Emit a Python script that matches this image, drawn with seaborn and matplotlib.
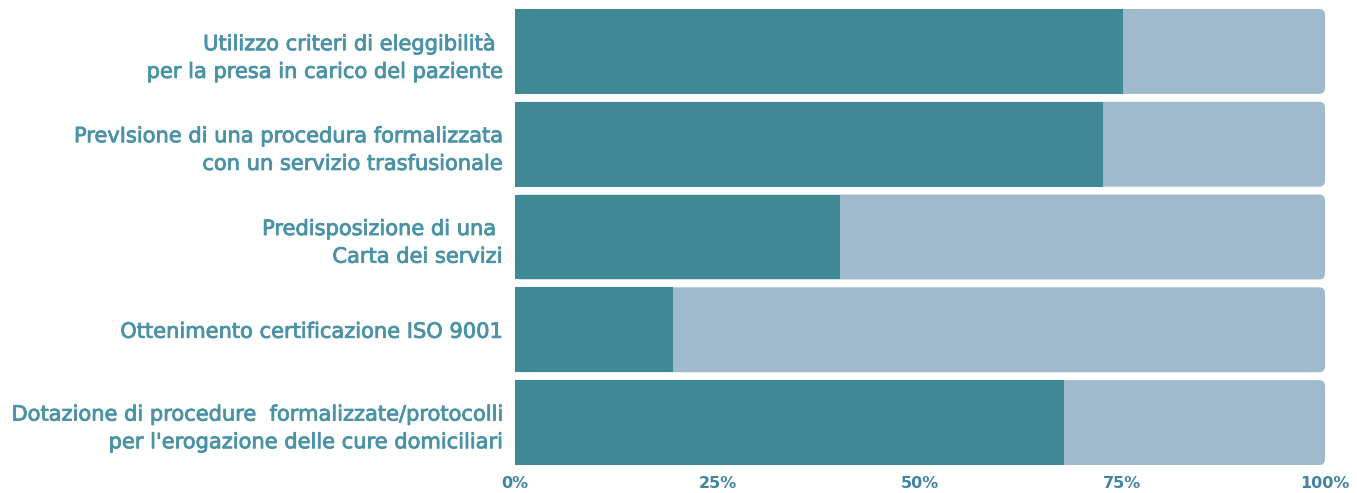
import matplotlib
matplotlib.use("Agg")
import matplotlib.pyplot as plt
import matplotlib.patheffects as pe
import seaborn as sns
import pandas as pd
from matplotlib.patches import FancyBboxPatch
from matplotlib.ticker import PercentFormatter

# ── data ──────────────────────────────────────────────────────────────────────
categories = [
    "Utilizzo criteri di eleggibilità \nper la presa in carico del paziente",
    "PrevIsione di una procedura formalizzata\ncon un servizio trasfusionale",
    "Predisposizione di una \nCarta dei servizi",
    "Ottenimento certificazione ISO 9001",
    "Dotazione di procedure  formalizzate/protocolli\nper l'erogazione delle cure domiciliari",
]
si_values = [75.1, 72.6, 40.1, 19.5, 67.8]
totals = [100, 100, 100, 100, 100]
tick_values = [0, 25, 50, 75, 100]

DARK = "#3f8994"
LIGHT = "#9fbacc"
LABEL_COL = "#4a92a6"
TICK_COL = "#3f84a0"

df = pd.DataFrame({"cat": categories, "si": si_values, "tot": totals})

sns.set_style("white")
plt.rcParams["font.family"] = ["DejaVu Sans"]

fig = plt.figure(figsize=(13.57, 4.93), dpi=100)
ax = fig.add_axes([515 / 1357, 1 - 465 / 493, 810 / 1357, 456 / 493])

W = 0.915
sns.barplot(data=df, y="cat", x="tot", color=LIGHT, width=W, orient="h", ax=ax,
            saturation=1, linewidth=0)
# swap the background bars for rounded ones
for p in list(ax.patches):
    x0, y0, w, h = p.get_x(), p.get_y(), p.get_width(), p.get_height()
    p.remove()
    ax.add_patch(FancyBboxPatch((x0, y0), w, h,
                                boxstyle="round,pad=0,rounding_size=0.7",
                                mutation_aspect=0.0115 * 8.1,
                                facecolor=LIGHT, edgecolor="none", zorder=1))
sns.barplot(data=df, y="cat", x="si", color=DARK, width=W, orient="h", ax=ax,
            saturation=1, linewidth=0, zorder=2)

ax.set_xlim(0, 100)
ax.set_ylim(len(categories) - 1 + W / 2, -W / 2)
ax.set_xticks(tick_values)
ax.xaxis.set_major_formatter(PercentFormatter(decimals=0))
ax.set_xlabel("")
ax.set_ylabel("")
sns.despine(ax=ax, left=True, bottom=True)
ax.tick_params(axis="both", length=0)
ax.tick_params(axis="y", pad=9)
ax.tick_params(axis="x", pad=8)

for lbl in ax.get_yticklabels():
    lbl.set_color(LABEL_COL)
    lbl.set_fontsize(15.1)
    lbl.set_linespacing(1.48)
    lbl.set_path_effects([pe.withStroke(linewidth=0.6, foreground=LABEL_COL)])
for lbl in ax.get_xticklabels():
    lbl.set_family(["Liberation Sans Narrow", "DejaVu Sans"])
    lbl.set_color(TICK_COL)
    lbl.set_fontsize(11.5)
    lbl.set_fontweight("bold")

fig.savefig("out.png", dpi=100)
